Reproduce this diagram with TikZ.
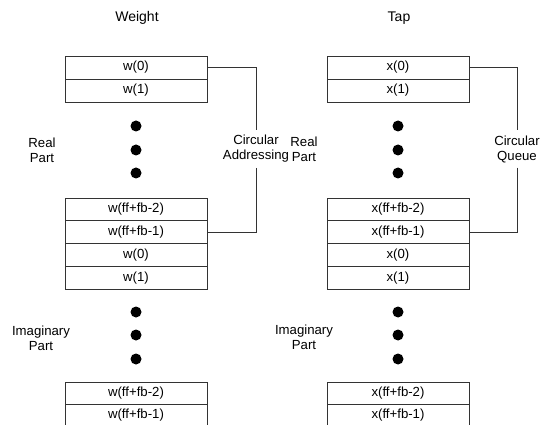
\documentclass[tikz,border=0pt]{standalone}
\usepackage{fontspec}
\setmainfont{Liberation Sans}
\begin{document}
\begin{tikzpicture}[x=1pt,y=-1pt,
  cell/.style={draw=black!80, line width=0.6pt, minimum width=142pt, minimum height=22.75pt, inner sep=0pt, font=\fontsize{13.2}{15}\selectfont},
  dotnode/.style={circle, fill=black, minimum size=11pt, inner sep=0pt},
  lbl/.style={align=center, font=\fontsize{13.2}{15}\selectfont, inner sep=3pt},
  ttl/.style={font=\fontsize{14}{16}\selectfont},
  conn/.style={draw=black!80, line width=0.6pt}
]
\useasboundingbox (0,0) rectangle (552,425);

% titles
\node[ttl] (tw) at (137,18) {Weight};
\node[ttl] (tt) at (399,18) {Tap};

% ---- Weight column ----
\node[cell, minimum height=23pt] (wa0) at (136,67.5) {w(0)};
\node[cell, minimum height=23pt] (wa1) at (136,90.5) {w(1)};
\node[dotnode] (wd1) at (136,126) {};
\node[dotnode] (wd2) at (136,150) {};
\node[dotnode] (wd3) at (136,173) {};
\node[cell] (wb0) at (136,209.4) {w(ff+fb-2)};
\node[cell] (wb1) at (136,232.1) {w(ff+fb-1)};
\node[cell] (wb2) at (136,254.9) {w(0)};
\node[cell] (wb3) at (136,277.6) {w(1)};
\node[dotnode] (wd4) at (136,312) {};
\node[dotnode] (wd5) at (136,335) {};
\node[dotnode] (wd6) at (136,359) {};
\node[cell, minimum height=22pt] (wc0) at (136,393) {w(ff+fb-2)};
\node[cell, minimum height=22pt] (wc1) at (136,415) {w(ff+fb-1)};

% ---- Tap column ----
\node[cell, minimum height=23pt] (xa0) at (398,67.5) {x(0)};
\node[cell, minimum height=23pt] (xa1) at (398,90.5) {x(1)};
\node[dotnode] (xd1) at (398,126) {};
\node[dotnode] (xd2) at (398,150) {};
\node[dotnode] (xd3) at (398,173) {};
\node[cell] (xb0) at (398,209.4) {x(ff+fb-2)};
\node[cell] (xb1) at (398,232.1) {x(ff+fb-1)};
\node[cell] (xb2) at (398,254.9) {x(0)};
\node[cell] (xb3) at (398,277.6) {x(1)};
\node[dotnode] (xd4) at (398,312) {};
\node[dotnode] (xd5) at (398,335) {};
\node[dotnode] (xd6) at (398,359) {};
\node[cell, minimum height=22pt] (xc0) at (398,393) {x(ff+fb-2)};
\node[cell, minimum height=22pt] (xc1) at (398,415) {x(ff+fb-1)};

% side labels
\node[lbl] (lr) at (42,150) {Real\\Part};
\node[lbl] (li) at (41,338) {Imaginary\\Part};
\node[lbl] (rr) at (304,149) {Real\\Part};
\node[lbl] (ri) at (304,337) {Imaginary\\Part};

% circular labels
\node[lbl, inner sep=5pt] (ca) at (256,149) {Circular\\Addressing};
\node[lbl, inner sep=5pt] (cq) at (517,149) {Circular\\Queue};

% connectors
\draw[conn] (wa0.east) -| (ca.north);
\draw[conn] (ca.south) |- (wb1.east);
\draw[conn] (xa0.east) -| (cq.north);
\draw[conn] (cq.south) |- (xb1.east);
\end{tikzpicture}
\end{document}
